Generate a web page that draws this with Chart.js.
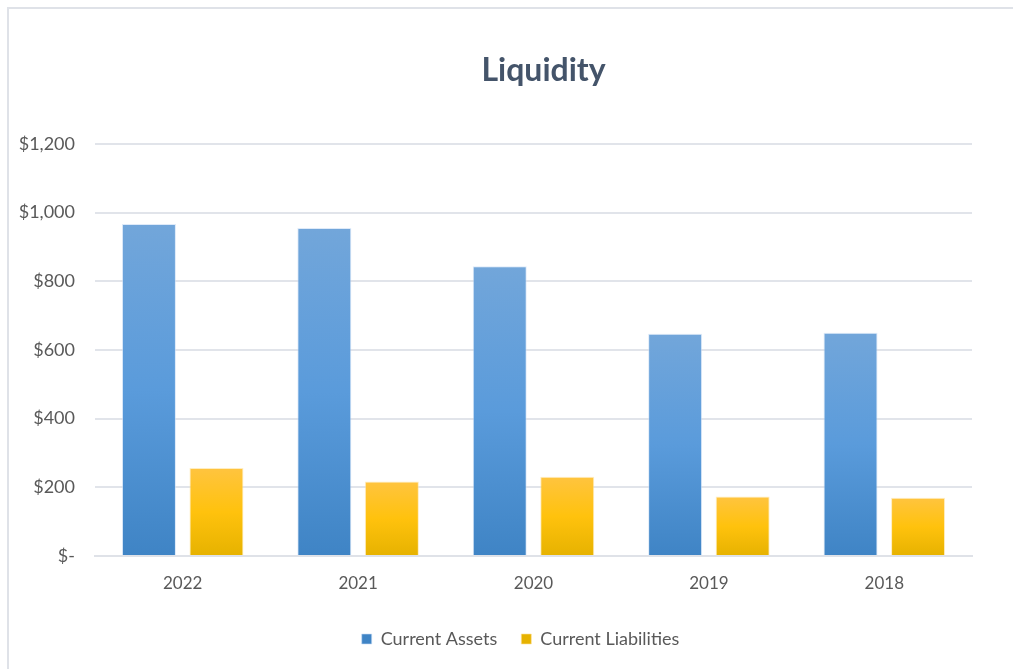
<!DOCTYPE html>
<html>
<head>
<meta charset="utf-8">
<title>Liquidity</title>
<script src="https://cdn.jsdelivr.net/npm/chart.js@4.4.1/dist/chart.umd.min.js"></script>
<style>
  body { margin: 0; background: #fff; }
  #wrap {
    position: absolute;
    left: 7px; top: 7px;
    width: 1004px; height: 660px;
    border-top: 2px solid #dfe2e8;
    border-left: 2px solid #dfe2e8;
  }
</style>
</head>
<body>
<div id="wrap"><canvas id="grafico" width="1004" height="660"></canvas></div>
<script>
const anos = ['2022', '2021', '2020', '2019', '2018'];
const ativos = [967, 955, 844, 647, 650];   // Current Assets
const passivos = [256, 217, 231, 173, 170]; // Current Liabilities
const tituloTexto = 'Liquidity';
const fonte = 'Lato, "Open Sans", sans-serif';

// gradiente vertical de cada barra, do topo da barra ate a base
function gradiente(ctx, cores) {
  const chart = ctx.chart;
  const y = chart.scales && chart.scales.y;
  if (!y || ctx.raw === undefined) return cores[1];
  const topo = y.getPixelForValue(ctx.raw);
  const base = y.getPixelForValue(0);
  if (!isFinite(topo) || !isFinite(base) || topo === base) return cores[1];
  const g = chart.ctx.createLinearGradient(0, topo, 0, base);
  g.addColorStop(0, cores[0]);
  g.addColorStop(0.5, cores[1]);
  g.addColorStop(1, cores[2]);
  return g;
}

function formatoDolar(v) {
  if (v === 0) return '$-';
  return '$' + v.toLocaleString('en-US');
}

// titulo desenhado um pouco deslocado, como no original
const tituloPlugin = {
  id: 'tituloPlugin',
  afterLayout(chart) {
    // empurra a legenda um pouco para a direita
    if (chart.legend) {
      chart.legend.left += 30;
      chart.legend.right += 30;
    }
  },
  afterDraw(chart) {
    const c = chart.ctx;
    c.save();
    c.font = 'bold 32px ' + fonte;
    c.fillStyle = '#44546a';
    c.textAlign = 'center';
    c.textBaseline = 'middle';
    c.fillText(tituloTexto, (chart.chartArea.left + chart.chartArea.right) / 2 + 10, 62);
    c.restore();
  }
};

new Chart(document.getElementById('grafico'), {
  type: 'bar',
  data: {
    labels: anos,
    datasets: [
      {
        label: 'Current Assets',
        data: ativos,
        backgroundColor: (ctx) => gradiente(ctx, ['#72a6da', '#5a9bdb', '#3f84c5']),
        borderColor: 'rgba(200,220,245,0.6)',
        borderWidth: 1,
        categoryPercentage: 0.77,
        barPercentage: 0.8
      },
      {
        label: 'Current Liabilities',
        data: passivos,
        backgroundColor: (ctx) => gradiente(ctx, ['#ffc43f', '#ffc20d', '#e6b200']),
        borderColor: 'rgba(255,225,150,0.6)',
        borderWidth: 1,
        categoryPercentage: 0.77,
        barPercentage: 0.8
      }
    ]
  },
  options: {
    responsive: false,
    animation: false,
    layout: { padding: { top: 135, right: 41, left: 0, bottom: 11 } },
    plugins: {
      title: { display: false },
      tooltip: { enabled: false },
      legend: {
        position: 'bottom',
        labels: {
          boxWidth: 10,
          boxHeight: 10,
          padding: 24,
          color: '#595959',
          font: { family: fonte, size: 18 }
        }
      }
    },
    scales: {
      x: {
        grid: { display: false, drawTicks: false },
        border: { display: true, color: '#dfe2e8', width: 2 },
        ticks: { color: '#595959', padding: 17, font: { family: fonte, size: 17 } },
        afterFit(scale) { scale.height = 50; }
      },
      y: {
        min: 0,
        max: 1200,
        ticks: {
          stepSize: 200,
          padding: 20,
          color: '#595959',
          font: { family: fonte, size: 18 },
          callback: (v) => formatoDolar(v)
        },
        grid: { color: '#e1e4ea', lineWidth: 2, drawTicks: false },
        border: { display: false },
        afterFit(scale) { scale.width = 86; }
      }
    }
  },
  plugins: [tituloPlugin]
});
</script>
</body>
</html>
